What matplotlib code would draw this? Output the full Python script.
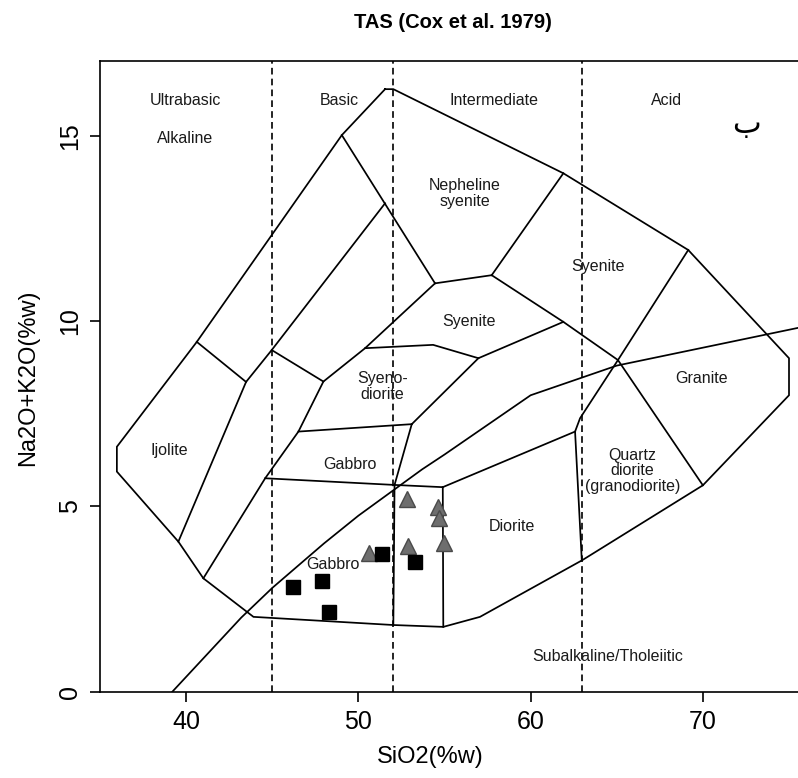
import matplotlib

matplotlib.use("Agg")
import matplotlib.pyplot as plt

plt.rcParams["font.family"] = ["Liberation Sans", "DejaVu Sans"]

# --- field boundaries (SiO2, Na2O+K2O) ---------------------------------------
outer_sio2 = [51.55, 52.03, 61.90, 69.15, 75.0, 75.0, 70.0, 63.0, 57.06,
              54.93, 52.03, 43.91, 41.0, 39.55, 35.98, 35.98, 40.62, 49.04, 51.55]
outer_alk = [16.26, 16.26, 13.99, 11.92, 9.0, 8.0, 5.57, 3.55, 2.02,
             1.75, 1.80, 2.02, 3.06, 4.05, 5.94, 6.61, 9.44, 15.02, 16.26]

# internal field lines, each one a polyline
field_lines = [
    ([49.04, 54.45], [15.02, 11.02]),
    ([54.45, 57.74], [11.02, 11.24]),
    ([57.74, 61.90], [11.24, 13.99]),
    ([57.74, 61.90, 65.07, 70.0], [11.24, 9.98, 8.95, 5.57]),
    ([69.15, 65.07, 62.87, 62.58, 62.97], [11.92, 8.95, 7.38, 7.02, 3.55]),
    ([51.55, 44.97, 43.48, 39.55], [13.18, 9.22, 8.36, 4.05]),
    ([40.62, 43.48], [9.44, 8.36]),
    ([44.97, 47.97], [9.22, 8.37]),
    ([54.45, 50.39, 47.97, 46.52, 44.59, 41.0], [11.02, 9.27, 8.37, 7.02, 5.76, 3.06]),
    ([50.39, 54.34, 56.97, 61.90], [9.27, 9.36, 9.0, 9.98]),
    ([56.97, 53.10], [9.0, 7.22]),
    ([46.52, 53.10], [7.02, 7.22]),
    ([53.10, 52.10], [7.22, 5.58]),
    ([44.59, 52.10, 54.90], [5.76, 5.58, 5.52]),
    ([52.10, 52.03], [5.58, 1.80]),
    ([54.90, 54.93], [5.52, 1.75]),
    ([54.90, 62.58], [5.52, 7.02]),
]

# alkaline / subalkaline divide (Irvine & Baragar 1971)
divide_sio2 = [39.2, 40, 43.2, 45, 48, 50, 53.7, 55, 60, 65, 77.4]
divide_alk = [0, 0.4, 2, 2.8, 4, 4.75, 6, 6.4, 8, 8.8, 10]

# silica saturation classes
class_limits = [45, 52, 63]

field_names = [
    ("Nepheline\nsyenite", 56.2, 13.45),
    ("Syenite", 63.9, 11.47),
    ("Syenite", 56.4, 9.98),
    ("Granite", 69.9, 8.46),
    ("Syeno-\ndiorite", 51.4, 8.23),
    ("Gabbro", 49.5, 6.12),
    ("Gabbro", 48.5, 3.42),
    ("Ijolite", 39.0, 6.52),
    ("Diorite", 58.9, 4.45),
    ("Quartz\ndiorite\n(granodiorite)", 65.9, 5.96),
    ("Subalkaline/Tholeiitic", 64.5, 0.96),
    ("Ultrabasic", 39.95, 15.95),
    ("Alkaline", 39.95, 14.93),
    ("Basic", 48.9, 15.95),
    ("Intermediate", 57.9, 15.95),
    ("Acid", 67.9, 15.95),
]

# samples
square_sio2 = [46.2, 47.9, 48.3, 51.4, 53.3]
square_alk = [2.83, 2.99, 2.16, 3.72, 3.51]
triangle_sio2 = [50.6, 52.8, 52.9, 54.65, 54.7, 54.95]
triangle_alk = [3.75, 5.2, 3.92, 4.98, 4.68, 4.02]

fig = plt.figure(figsize=(7.98, 7.78), dpi=100)
ax = fig.add_axes([0.1253, 0.1109, 0.8835, 0.8107])
ax.set_xlim(35.0, 75.93)
ax.set_ylim(0, 17.02)

line_kw = dict(color="black", linewidth=1.25, solid_joinstyle="miter")
ax.plot(outer_sio2, outer_alk, **line_kw)
for xs, ys in field_lines:
    ax.plot(xs, ys, **line_kw)
ax.plot(divide_sio2, divide_alk, **line_kw)
for xv in class_limits:
    ax.axvline(xv, color="black", linewidth=1.2, linestyle=(0, (4, 2.5)))

for name, xv, yv in field_names:
    ax.text(xv, yv, name, ha="center", va="center", fontsize=11.5,
            linespacing=1.05, color="#1a1a1a")
# panel letter
ax.text(72.54, 15.3, "\u0628", ha="center", va="center", fontsize=22,
        family=["DejaVu Sans"])

ax.plot(triangle_sio2, triangle_alk, linestyle="none", marker="^",
        markersize=12, markerfacecolor="#6e6e6e", markeredgecolor="#4a4a4a",
        markeredgewidth=1.0, zorder=4)
ax.plot(square_sio2, square_alk, linestyle="none", marker="s",
        markersize=10.5, markerfacecolor="black", markeredgecolor="black",
        zorder=5)

ax.set_xticks([40, 50, 60, 70])
ax.set_yticks([0, 5, 10, 15])
ax.tick_params(direction="out", length=7.2, width=1.2, labelsize=18, pad=6)
for lbl in ax.get_yticklabels():
    lbl.set_rotation(90)
    lbl.set_va("center")
for spine in ax.spines.values():
    spine.set_linewidth(1.2)

ax.set_xlabel("SiO2(%w)", fontsize=17, va="center")
ax.set_ylabel("Na2O+K2O(%w)", fontsize=17, va="center")
ax.xaxis.set_label_coords((430 - 100) / 705, -(757 - 691.7) / 630.7)
ax.yaxis.set_label_coords(-(100 - 28) / 705, (691.7 - 378) / 630.7)

fig.text(452.5 / 798, 1 - 22 / 778, "TAS (Cox et al. 1979)", ha="center",
         va="center", fontsize=14.5, fontweight="bold")

fig.savefig("out.png", dpi=100, facecolor="white")
